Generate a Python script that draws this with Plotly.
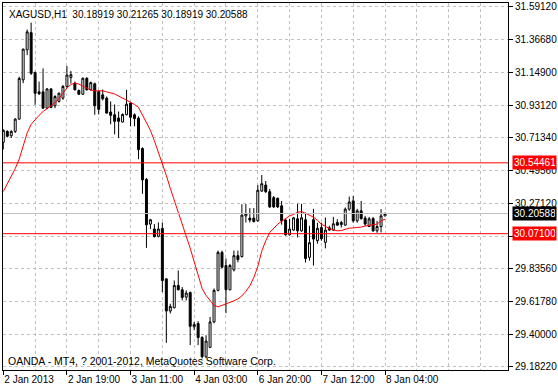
import plotly.graph_objects as go

# ---- data (XAGUSD H1) ----
bar_index = list(range(97))

opens = [30.682, 30.755, 30.726, 30.755, 30.837, 31.099, 31.300, 31.415, 31.149, 31.019,
         31.019, 30.910, 31.039, 30.926, 30.955, 30.977, 31.055, 31.115, 31.077, 31.028,
         31.003, 31.110, 31.033, 31.073, 31.021, 30.999, 30.977, 30.884, 30.866, 30.844,
         30.817, 30.866, 30.944, 30.866, 30.844, 30.640, 30.434, 30.135, 30.102, 30.053,
         30.106, 29.769, 29.554, 29.576, 29.725, 29.696, 29.647, 29.677, 29.448, 29.470,
         29.377, 29.248, 29.311, 29.481, 29.692, 29.946, 29.858, 29.696, 29.829, 29.924,
         29.918, 30.190, 30.175, 30.175, 30.157, 30.356, 30.396, 30.352, 30.312, 30.308,
         30.257, 30.162, 30.064, 30.095, 30.170, 30.090, 30.164, 29.913, 30.164, 30.024,
         30.112, 30.013, 30.110, 30.095, 30.146, 30.131, 30.128, 30.235, 30.290, 30.157,
         30.224, 30.175, 30.119, 30.172, 30.090, 30.119, 30.18919]

highs = [30.769, 30.762, 30.762, 30.843, 31.121, 31.307, 31.436, 31.482, 31.154, 31.088,
         31.176, 31.043, 31.043, 30.997, 31.015, 31.066, 31.192, 31.159, 31.088, 31.035,
         31.115, 31.117, 31.088, 31.081, 31.028, 31.035, 30.988, 30.955, 30.935, 30.888,
         30.875, 31.033, 30.952, 30.875, 30.855, 30.649, 30.443, 30.170, 30.135, 30.146,
         30.146, 29.771, 29.603, 29.758, 29.825, 29.714, 29.692, 29.685, 29.481, 29.486,
         29.386, 29.392, 29.514, 29.705, 29.958, 29.958, 29.905, 29.869, 29.958, 29.958,
         30.268, 30.270, 30.242, 30.242, 30.396, 30.463, 30.423, 30.370, 30.323, 30.312,
         30.290, 30.170, 30.170, 30.183, 30.272, 30.270, 30.212, 30.124, 30.237, 30.144,
         30.144, 30.179, 30.124, 30.183, 30.168, 30.157, 30.246, 30.319, 30.323, 30.237,
         30.290, 30.190, 30.183, 30.183, 30.157, 30.235, 30.21265]

lows = [30.634, 30.715, 30.711, 30.744, 30.833, 31.077, 31.265, 31.132, 30.933, 30.999,
        30.906, 30.904, 30.910, 30.910, 30.948, 30.966, 31.048, 31.075, 31.028, 30.999,
        30.999, 31.028, 31.028, 30.866, 30.868, 30.962, 30.875, 30.802, 30.735, 30.711,
        30.815, 30.862, 30.789, 30.789, 30.569, 30.338, 29.976, 30.102, 30.046, 30.046,
        29.680, 29.341, 29.537, 29.572, 29.692, 29.625, 29.625, 29.326, 29.426, 29.326,
        29.237, 29.239, 29.306, 29.472, 29.685, 29.838, 29.540, 29.692, 29.818, 29.880,
        29.911, 30.146, 30.146, 30.146, 30.151, 30.350, 30.343, 30.243, 30.243, 30.243,
        30.131, 30.057, 30.057, 30.090, 30.046, 30.084, 29.878, 29.891, 29.858, 30.004,
        30.024, 29.973, 30.090, 30.090, 30.124, 30.112, 30.124, 30.224, 30.144, 30.144,
        30.164, 30.124, 30.117, 30.084, 30.077, 30.079, 30.18919]

closes = [30.762, 30.722, 30.755, 30.837, 31.109, 31.305, 31.420, 31.143, 31.010, 31.006,
          30.910, 31.039, 30.915, 30.988, 31.010, 31.055, 31.132, 31.134, 31.033, 31.003,
          31.110, 31.033, 31.081, 30.926, 30.902, 30.973, 30.877, 30.862, 30.822, 30.822,
          30.868, 30.937, 30.849, 30.840, 30.633, 30.430, 30.130, 30.164, 30.051, 30.102,
          29.758, 29.554, 29.585, 29.725, 29.696, 29.645, 29.674, 29.452, 29.464, 29.377,
          29.248, 29.353, 29.481, 29.692, 29.946, 29.847, 29.696, 29.858, 29.924, 29.898,
          30.195, 30.206, 30.162, 30.152, 30.361, 30.405, 30.352, 30.250, 30.250, 30.250,
          30.157, 30.064, 30.102, 30.177, 30.090, 30.177, 29.905, 30.011, 30.035, 30.107,
          30.037, 30.095, 30.095, 30.137, 30.128, 30.146, 30.235, 30.283, 30.157, 30.224,
          30.172, 30.135, 30.170, 30.090, 30.119, 30.190, 30.20588]

moving_avg = [30.353, 30.403, 30.453, 30.506, 30.569, 30.662, 30.745, 30.802, 30.835, 30.862,
              30.888, 30.905, 30.922, 30.945, 30.975, 31.008, 31.045, 31.068, 31.078, 31.071,
              31.058, 31.045, 31.031, 31.026, 31.026, 31.026, 31.019, 31.013, 31.005, 30.991,
              30.977, 30.963, 30.948, 30.935, 30.915, 30.866, 30.815, 30.762, 30.692, 30.619,
              30.545, 30.460, 30.374, 30.297, 30.217, 30.135, 30.057, 29.974, 29.884, 29.791,
              29.705, 29.658, 29.622, 29.592, 29.582, 29.592, 29.602, 29.609, 29.622, 29.635,
              29.655, 29.685, 29.722, 29.778, 29.851, 29.954, 30.024, 30.079, 30.107, 30.134,
              30.154, 30.174, 30.190, 30.200, 30.214, 30.219, 30.208, 30.194, 30.182, 30.160,
              30.134, 30.120, 30.104, 30.097, 30.090, 30.092, 30.100, 30.108, 30.110, 30.112,
              30.115, 30.122, 30.128, 30.132, 30.135, 30.157, 30.168]

x_label_idx = [0, 16, 32, 48, 64, 80, 96]
x_labels = ["2 Jan 2013", "2 Jan 19:00", "3 Jan 11:00", "4 Jan 03:00",
            "6 Jan 20:00", "7 Jan 12:00", "8 Jan 04:00"]
x_grid_idx = list(range(8, 121, 8))

y_tick_labels = ["31.59120", "31.36680", "31.14900", "30.93120", "30.71340", "30.49560",
                 "30.27120", "30.05340", "29.83560", "29.61780", "29.40000", "29.18220"]
y_hidden = ["30.05340"]

level_values = [30.54461, 30.07100]
level_labels = ["30.54461", "30.07100"]
bid_value = 30.20588
bid_label = "30.20588"

title_text = "XAGUSD,H1\u00a0\u00a030.18919 30.21265 30.18919 30.20588"
footer_text = "OANDA - MT4, ? 2001-2012, MetaQuotes Software Corp."

FONT = "Liberation Sans, Arial, sans-serif"

fig = go.Figure()

fig.add_trace(go.Candlestick(
    x=bar_index, open=opens, high=highs, low=lows, close=closes,
    increasing=dict(line=dict(color="black", width=1), fillcolor="white"),
    decreasing=dict(line=dict(color="black", width=1), fillcolor="black"),
    whiskerwidth=0, showlegend=False, hoverinfo="skip",
))
fig.add_trace(go.Scatter(
    x=bar_index, y=moving_avg, mode="lines",
    line=dict(color="#ff0000", width=1), showlegend=False, hoverinfo="skip",
))

for v in level_values:
    fig.add_hline(y=v, line=dict(color="#ff0000", width=1))
fig.add_hline(y=bid_value, line=dict(color="#c0c0c0", width=1))

annotations = []
for v, t in zip(level_values, level_labels):
    annotations.append(dict(x=1, xref="paper", y=v, yref="y", xanchor="left", xshift=4,
                            text=t, showarrow=False, bgcolor="#ff0000", borderpad=1,
                            font=dict(family=FONT, size=10, color="white"),
                            width=41, align="left"))
annotations.append(dict(x=1, xref="paper", y=bid_value, yref="y", xanchor="left", xshift=4,
                        text=bid_label, showarrow=False, bgcolor="#000000", borderpad=1,
                        font=dict(family=FONT, size=10, color="white"),
                        width=41, align="left"))
annotations.append(dict(x=0, xref="paper", y=1, yref="paper", xanchor="left", yanchor="top",
                        xshift=4, yshift=-4, text=title_text, showarrow=False,
                        font=dict(family=FONT, size=10, color="black")))
annotations.append(dict(x=0, xref="paper", y=0, yref="paper", xanchor="left", yanchor="bottom",
                        xshift=3, yshift=1, text=footer_text, showarrow=False,
                        font=dict(family=FONT, size=10.5, color="black")))

fig.update_layout(
    width=558, height=387,
    margin=dict(l=3, r=47, t=1, b=17),
    paper_bgcolor="white", plot_bgcolor="white",
    font=dict(family=FONT, size=10, color="black"),
    annotations=annotations,
    xaxis=dict(
        range=[-0.075, 126.925], rangeslider=dict(visible=False),
        showline=True, linecolor="black", linewidth=1, mirror=True,
        tickmode="array", tickvals=x_label_idx, ticktext=x_labels,
        ticks="outside", ticklen=4, tickcolor="black",
        ticklabelposition="outside right", ticklabeloverflow="allow",
        tickfont=dict(family=FONT, size=10, color="black"),
        showgrid=False, zeroline=False,
        minor=dict(tickmode="array", tickvals=x_grid_idx, showgrid=True,
                   gridcolor="#c0c0c0", griddash="3px,3px", gridwidth=1, ticks=""),
    ),
    yaxis=dict(
        side="right", range=[29.1597, 31.6131],
        showline=True, linecolor="black", linewidth=1, mirror=True,
        tickmode="array", tickvals=[float(s) for s in y_tick_labels],
        ticktext=["" if s in y_hidden else s for s in y_tick_labels],
        ticks="outside", ticklen=4, tickcolor="black", ticklabeloverflow="allow",
        tickfont=dict(family=FONT, size=10, color="black"),
        showgrid=True, gridcolor="#c0c0c0", griddash="3px,3px", gridwidth=1,
        zeroline=False,
    ),
)

fig.write_html("out.html", config={"displayModeBar": False},
               post_script="document.body.style.margin='0';")
